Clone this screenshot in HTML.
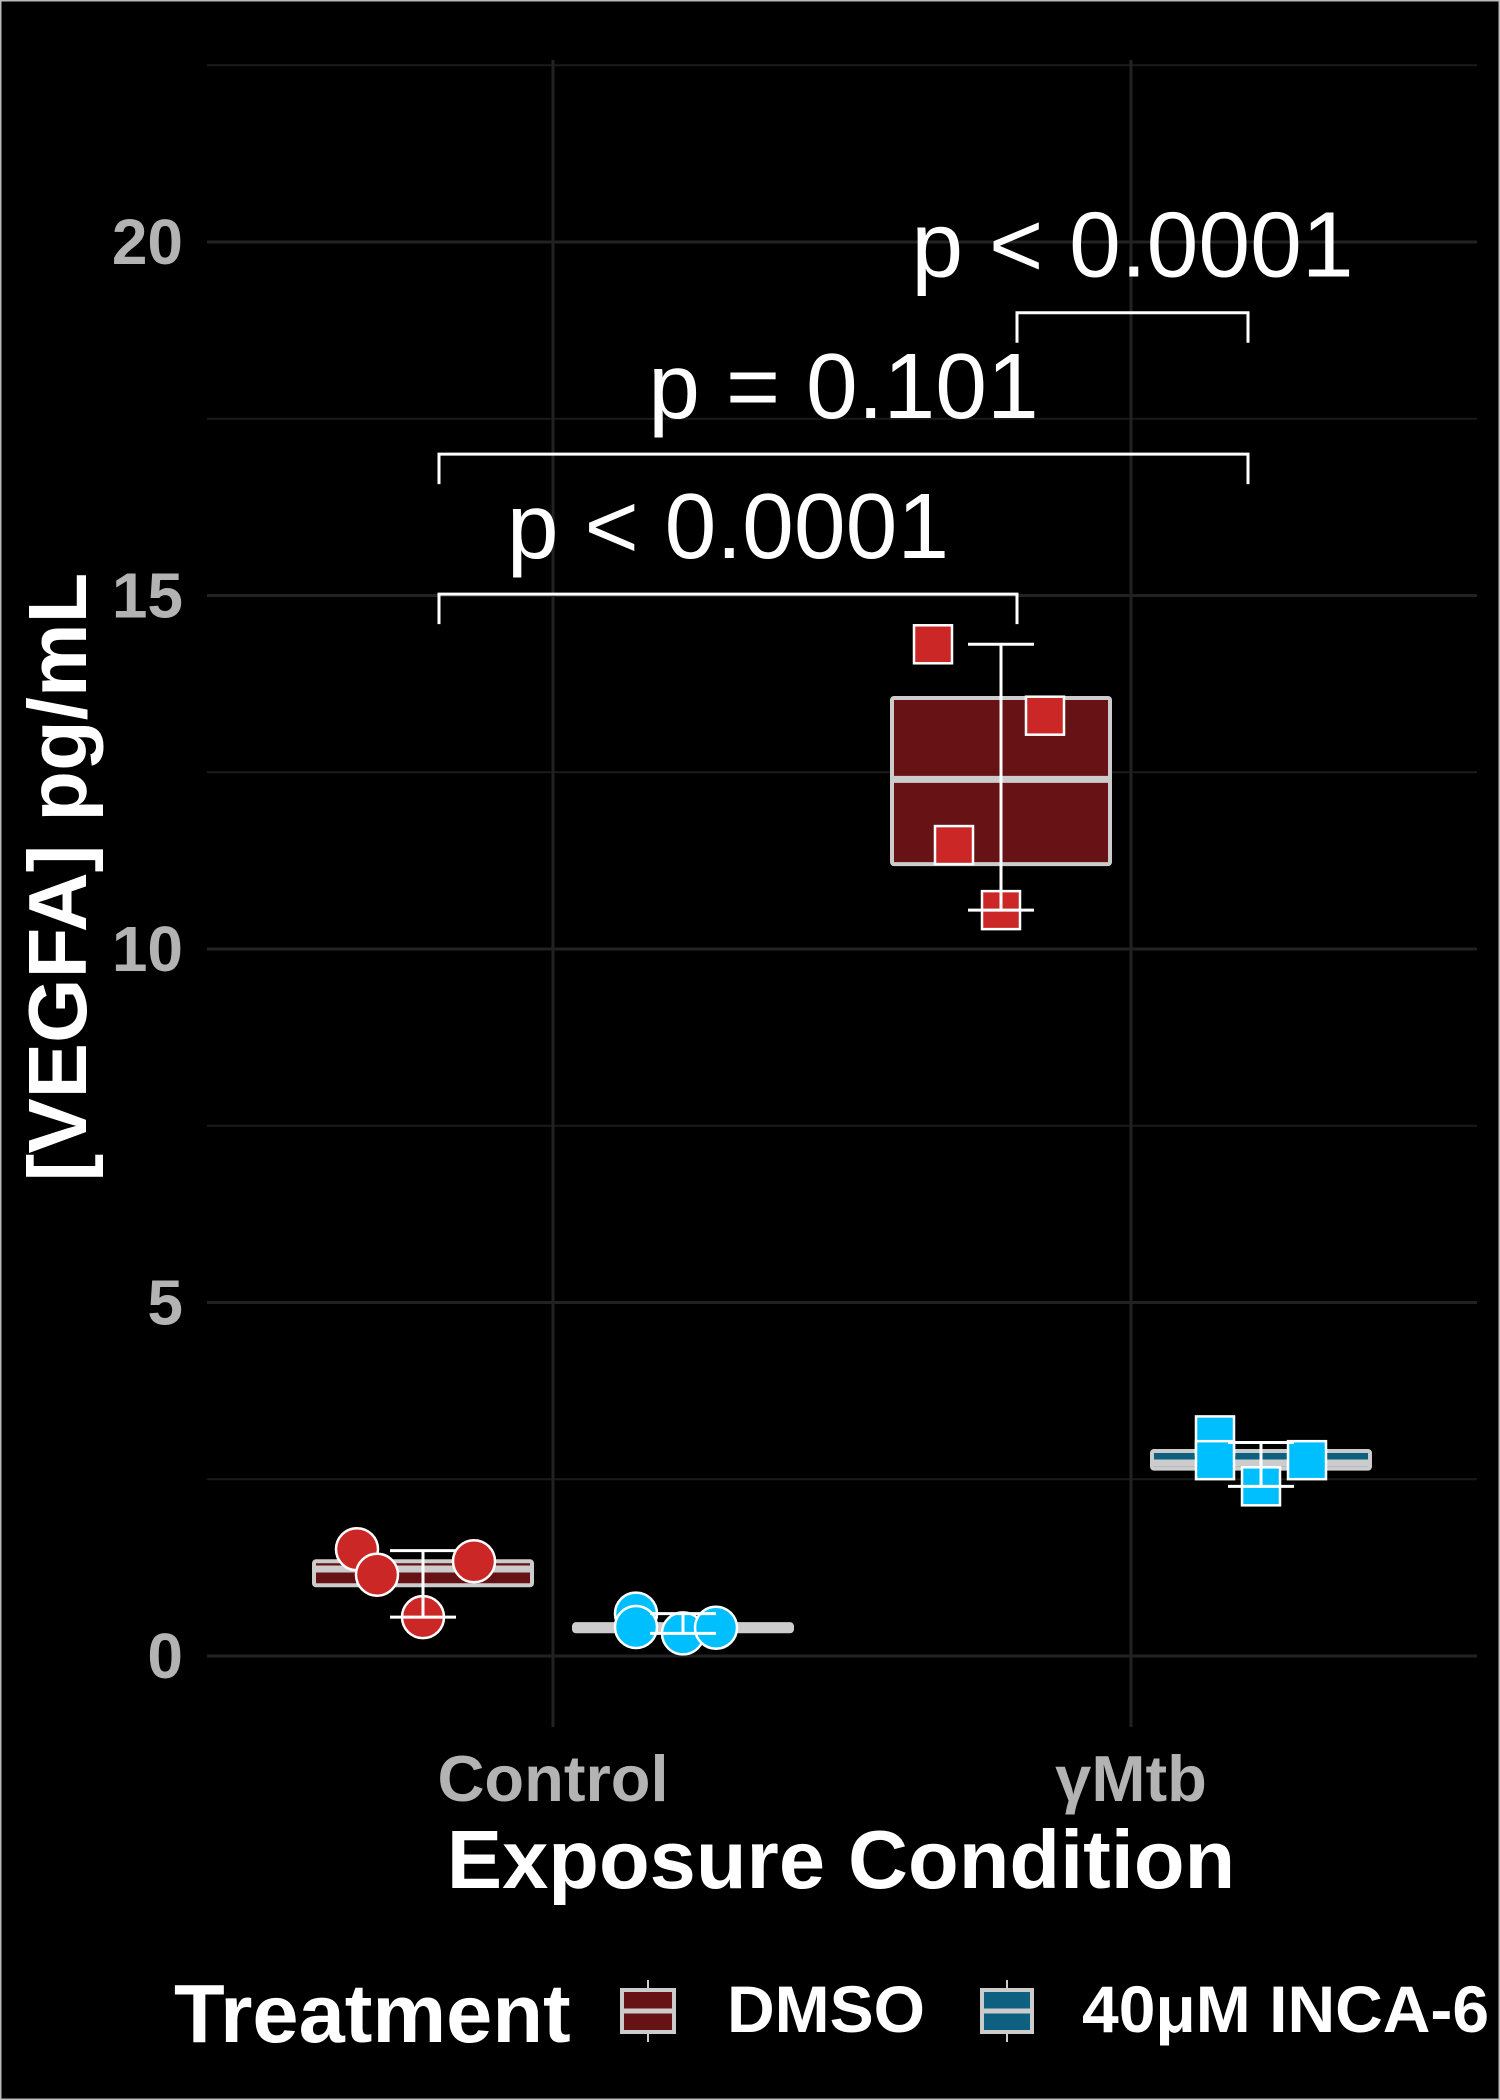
<!DOCTYPE html>
<html><head><meta charset="utf-8"><style>
html,body{margin:0;padding:0;background:#000;}
svg{display:block;}
text{font-family:"Liberation Sans",sans-serif;}
</style></head><body>
<svg id="chart" width="1500" height="2100" viewBox="0 0 1500 2100" xmlns="http://www.w3.org/2000/svg">
<rect x="0" y="0" width="1500" height="2100" fill="#000" stroke="#bbb" stroke-width="3"/>
<g id="grid"></g><g id="marks"></g><g id="annot"></g>
<text x="841" y="1888" text-anchor="middle" fill="#fff" font-weight="bold" font-size="83">Exposure Condition</text>
<text transform="translate(86,877) rotate(-90)" text-anchor="middle" fill="#fff" font-weight="bold" font-size="83">[VEGFA] pg/mL</text>
<g>
<text x="174" y="2042" fill="#fff" font-weight="bold" font-size="83">Treatment</text>
<g>
<line x1="648" y1="1980" x2="648" y2="2042" stroke="#ccc" stroke-width="2"/>
<rect x="622" y="1990" width="52" height="42" fill="#671214" stroke="#ccc" stroke-width="4"/>
<line x1="622" y1="2011" x2="674" y2="2011" stroke="#ccc" stroke-width="5"/>
<text x="727" y="2032" fill="#fff" font-weight="bold" font-size="66">DMSO</text></g>
<g>
<line x1="1007" y1="1980" x2="1007" y2="2042" stroke="#ccc" stroke-width="2"/>
<rect x="982" y="1990" width="50" height="42" fill="#0e6080" stroke="#ccc" stroke-width="4"/>
<line x1="982" y1="2011" x2="1032" y2="2011" stroke="#ccc" stroke-width="5"/>
<text x="1082" y="2032" fill="#fff" font-weight="bold" font-size="66">40μM INCA-6</text></g>
</g>
</svg>
<script>
const categories = ["Control", "γMtb"];
const treatments = ["DMSO", "40μM INCA-6"];
const yTicks = [0, 5, 10, 15, 20];
const pointsCtrlDMSO = [1.51, 1.15, 1.34, 0.55];
const pointsCtrlINCA = [0.60, 0.41, 0.32, 0.40];
const pointsMtbDMSO = [14.31, 13.30, 11.47, 10.55];
const pointsMtbINCA = [3.12, 2.77, 2.77, 2.40];
const boxLow = [1.00, 0.35, 11.20, 2.65];
const boxMed = [1.23, 0.40, 12.40, 2.73];
const boxHigh = [1.34, 0.45, 13.55, 2.90];
const whiskLow = [0.55, 0.32, 10.55, 2.40];
const whiskHigh = [1.49, 0.60, 14.31, 3.02];
const pLabels = ["p < 0.0001", "p = 0.101", "p < 0.0001"];
const pLevels = [15.02, 17.0, 19.0];

// horizontal jitter offsets (layout, px)
const jitter = [[-66,-46,51,0],[-47,-47,0,33],[-68,44,-47,0],[-46,-46,46,0]];
const NS = "http://www.w3.org/2000/svg";
const y = v => 1656 - v * 70.7;
const xCat = i => 553 + i * 578;
const dodge = t => (t === 0 ? -130 : 130);
function mk(tag, attrs, parent){const e=document.createElementNS(NS,tag);for(const k in attrs)e.setAttribute(k,attrs[k]);parent.appendChild(e);return e;}
const grid=document.getElementById('grid'), marks=document.getElementById('marks'), annot=document.getElementById('annot');
const pl=207, pr=1477;
for(let v=0; v<=22.5; v+=2.5){
  const major = v%5===0;
  const l=mk('line',{x1:pl,x2:pr,y1:y(v),y2:y(v),stroke:major?'#222':'#1a1a1a','stroke-width':major?3:2},grid);
  
  
}
categories.forEach((c,i)=>{
  const l=mk('line',{x1:xCat(i),x2:xCat(i),y1:60,y2:1727,stroke:'#222','stroke-width':3},grid);
  
  
  const t=mk('text',{x:xCat(i),y:1801,'text-anchor':'middle',fill:'#b3b3b3','font-weight':'bold','font-size':65},grid);
  t.textContent=c;
  
  
});
yTicks.forEach(v=>{
  const t=mk('text',{x:183,y:y(v)+22,'text-anchor':'end',fill:'#b3b3b3','font-weight':'bold','font-size':64},grid);
  t.textContent=v;
  
  
});
const allPts=[pointsCtrlDMSO,pointsCtrlINCA,pointsMtbDMSO,pointsMtbINCA];
const fills=['#671214','#0e6080'], ptFill=['#cc2727','#00bfff'];
allPts.forEach((pts,g)=>{
  const ci=Math.floor(g/2), ti=g%2, cx=xCat(ci)+dodge(ti), hw=109;
  const grp=mk('g',{},marks);
  
  
  mk('rect',{x:cx-hw,y:y(boxHigh[g]),width:2*hw,height:y(boxLow[g])-y(boxHigh[g]),fill:fills[ti],stroke:'#ccc','stroke-width':4,rx:2},grp);
  mk('line',{x1:cx-hw,x2:cx+hw,y1:y(boxMed[g]),y2:y(boxMed[g]),stroke:'#ccc','stroke-width':7},grp);
  pts.forEach((v,k)=>{
    const px=cx+jitter[g][k];
    let m;
    if(ci===0) m=mk('circle',{cx:px,cy:y(v),r:21,fill:ptFill[ti],stroke:'#fff','stroke-width':2.5},grp);
    else m=mk('rect',{x:px-19,y:y(v)-19,width:38,height:38,fill:ptFill[ti],stroke:'#fff','stroke-width':2.5},grp);
    
    
  });
  mk('line',{x1:cx,x2:cx,y1:y(whiskHigh[g]),y2:y(whiskLow[g]),stroke:'#fff','stroke-width':3},grp);
  mk('line',{x1:cx-33,x2:cx+33,y1:y(whiskHigh[g]),y2:y(whiskHigh[g]),stroke:'#fff','stroke-width':3},grp);
  mk('line',{x1:cx-33,x2:cx+33,y1:y(whiskLow[g]),y2:y(whiskLow[g]),stroke:'#fff','stroke-width':3},grp);
});
const pairs=[[0,2],[0,3],[2,3]];
const gx=g=>xCat(Math.floor(g/2))+dodge(g%2)+(g%2?-13:16);
pairs.forEach((pr2,i)=>{
  const x1=gx(pr2[0]), x2=gx(pr2[1]), yy=y(pLevels[i]);
  const grp=mk('g',{},annot);
  
  
  mk('path',{d:`M${x1},${yy+30} V${yy} H${x2} V${yy+30}`,fill:'none',stroke:'#fff','stroke-width':3},grp);
  const t=mk('text',{x:(x1+x2)/2,y:yy-36,'text-anchor':'middle',fill:'#fff','font-size':93},grp);
  t.textContent=pLabels[i];
});
</script>
</body></html>
